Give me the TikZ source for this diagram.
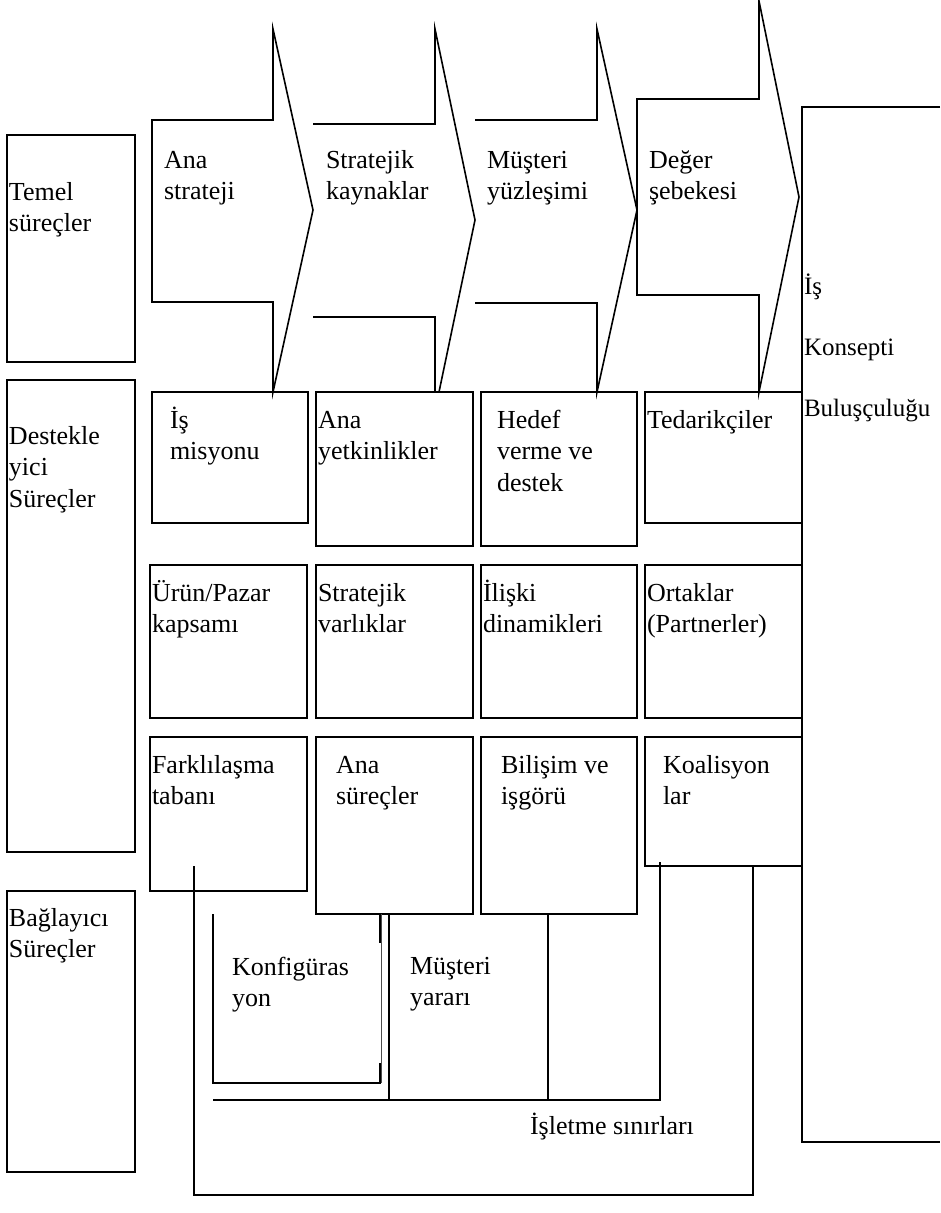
\documentclass[tikz,border=0pt]{standalone}
\usepackage{fontspec}
\setmainfont{Liberation Serif}
\begin{document}
\begin{tikzpicture}[x=1pt,y=-1pt, line width=1.6pt, line join=miter,
  box/.style={draw, line width=1.6pt, anchor=north west, inner sep=0pt, outer sep=0pt},
  chev/.style={draw, line width=1.6pt},
  lbl/.style={anchor=north west, inner sep=0pt, outer sep=0pt, align=left, font=\fontsize{26}{31.5}\selectfont},
  conn/.style={draw, line width=1.6pt},
  thin/.style={draw, line width=0.8pt, draw=black!70}]
\useasboundingbox[fill=white] (0,0) rectangle (940,1213);

% left column
\node[box, minimum width=128pt, minimum height=227pt] (temel) at (7,135) {};
\node[box, minimum width=128pt, minimum height=472pt] (destek) at (7,380) {};
\node[box, minimum width=128pt, minimum height=281pt] (bag) at (7,891) {};
\node[lbl] (ttemel) at (9,178) {\strut Temel\\süreçler};
\node[lbl] (tdestek) at (9,422) {\strut Destekle\\yici\\Süreçler};
\node[lbl] (tbag) at (9,904) {\strut Bağlayıcı\\Süreçler};

% chevrons
\draw[chev] (152,120) -- (273,120) -- (273,29) -- (313,210) -- (273,392) -- (273,302) -- (152,302) -- cycle;
\draw[chev] (313,124) -- (435,124) -- (435,29) -- (475,220) -- (439,392) -- (435,392) -- (435,317) -- (313,317);
\draw[chev] (475,120) -- (597,120) -- (597,29) -- (637,210) -- (597,392) -- (597,303) -- (475,303);
\draw[chev] (637,99) -- (759,99) -- (759,1) -- (799,197) -- (759,392) -- (759,295) -- (637,295) -- cycle;
\node[lbl] (tana) at (164,146) {\strut Ana\\strateji};
\node[lbl] (tstr) at (326,146) {\strut Stratejik\\kaynaklar};
\node[lbl] (tmus) at (487,146) {\strut Müşteri\\yüzleşimi};
\node[lbl] (tdeg) at (649,146) {\strut Değer\\şebekesi};

% right big box
\coordinate (bkTR) at (940,107);
\coordinate (bkTL) at (802,107);
\coordinate (bkBL) at (802,1142);
\coordinate (bkBR) at (940,1142);
\draw[conn] (bkTR) -- (bkTL) -- (bkBL) -- (bkBR);
\node[lbl, font=\fontsize{25}{61}\selectfont] (tis) at (804,252) {\strut İş\\Konsepti\\Buluşçuluğu};

% row 1
\node[box, minimum width=156pt, minimum height=131pt] (ismis) at (152,392) {};
\node[box, minimum width=157pt, minimum height=154pt] (anayet) at (316,392) {};
\node[box, minimum width=156pt, minimum height=154pt] (hedef) at (481,392) {};
\node[box, minimum width=157pt, minimum height=131pt] (tedar) at (645,392) {};
\node[lbl] (tismis) at (170,406) {\strut İş\\misyonu};
\node[lbl] (tanayet) at (318,406) {\strut Ana\\yetkinlikler};
\node[lbl] (thedef) at (497,406) {\strut Hedef\\verme ve\\destek};
\node[lbl] (ttedar) at (647,406) {\strut Tedarikçiler};

% row 2
\node[box, minimum width=157pt, minimum height=153pt] (urun) at (150,565) {};
\node[box, minimum width=157pt, minimum height=153pt] (stvar) at (316,565) {};
\node[box, minimum width=156pt, minimum height=153pt] (iliski) at (481,565) {};
\node[box, minimum width=157pt, minimum height=153pt] (ortak) at (645,565) {};
\node[lbl] (turun) at (152,579) {\strut Ürün/Pazar\\kapsamı};
\node[lbl] (tstvar) at (318,579) {\strut Stratejik\\varlıklar};
\node[lbl] (tiliski) at (483,579) {\strut İlişki\\dinamikleri};
\node[lbl] (tortak) at (647,579) {\strut Ortaklar\\(Partnerler)};

% row 3
\node[box, minimum width=157pt, minimum height=154pt] (fark) at (150,737) {};
\node[box, minimum width=157pt, minimum height=177pt] (anasur) at (316,737) {};
\node[box, minimum width=156pt, minimum height=177pt] (bilisim) at (481,737) {};
\node[box, minimum width=157pt, minimum height=129pt] (koal) at (645,737) {};
\node[lbl] (tfark) at (152,751) {\strut Farklılaşma\\tabanı};
\node[lbl] (tanasur) at (336,751) {\strut Ana\\süreçler};
\node[lbl] (tbilisim) at (501,751) {\strut Bilişim ve\\işgörü};
\node[lbl] (tkoal) at (663,751) {\strut Koalisyon\\lar};

% bottom connectors
\coordinate (kfTL) at (213,914);
\coordinate (kfBL) at (213,1083);
\coordinate (kfBR) at (380,1083);
\coordinate (kfTR) at (380,914);
\coordinate (kfM1) at (380,943);
\coordinate (kfM2) at (380,1063);
\draw[conn] (kfTL) -- (kfBL) -- (kfBR) -- (kfM2);
\draw[conn] (kfTR) -- (kfM1);
\draw[thin] ([xshift=1.5pt]kfTR) -- ([xshift=1.5pt]kfBR);
\coordinate (myTL) at (389,914);
\coordinate (myBL) at (389,1100);
\coordinate (myBR) at (548,1100);
\coordinate (myTR) at (548,914);
\draw[conn] (myTL) -- (myBL);
\draw[conn] (myTR) -- (myBR);
\draw[conn, line width=2.6pt] (myBL) -- (myBR);
\coordinate (hlL) at (213,1100);
\coordinate (hlR) at (660,1100);
\coordinate (hlT) at (660,862);
\draw[conn] (hlL) -- (hlR) -- (hlT);
\coordinate (lpA) at (194,866);
\coordinate (lpB) at (194,1195);
\coordinate (lpC) at (753,1195);
\coordinate (lpD) at (753,866);
\draw[conn] (lpA) -- (lpB) -- (lpC) -- (lpD);
\node[lbl] (tkonf) at (232,953) {\strut Konfigüras\\yon};
\node[lbl] (tmy) at (410,952) {\strut Müşteri\\yararı};
\node[lbl] (tisl) at (530,1112) {\strut İşletme sınırları};
\end{tikzpicture}
\end{document}
